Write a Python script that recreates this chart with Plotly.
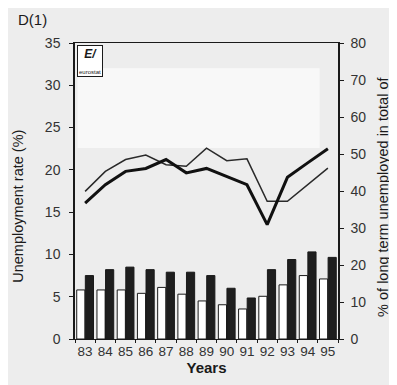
import plotly.graph_objects as go

# data
years = ["83", "84", "85", "86", "87", "88", "89", "90", "91", "92", "93", "94", "95"]
rate_white = [5.8, 5.8, 5.8, 5.4, 6.1, 5.3, 4.5, 4.05, 3.55, 5.05, 6.4, 7.5, 7.1]
rate_black = [7.5, 8.2, 8.5, 8.2, 7.9, 7.9, 7.5, 6.0, 4.85, 8.2, 9.4, 10.3, 9.65]
lt_thin = [39.9, 45.3, 48.5, 49.7, 47.1, 46.7, 51.6, 48.2, 48.7, 37.2, 37.2, 41.7, 46.2]
lt_thick = [36.7, 41.7, 45.3, 46.1, 48.5, 44.9, 46.1, 44.0, 41.7, 30.9, 43.7, 47.6, 51.4]
left_ticks = [0, 5, 10, 15, 20, 25, 30, 35]
right_ticks = [0, 10, 20, 30, 40, 50, 60, 70, 80]

INK = "#1a1a1a"
TXT = "#333333"
BG = "#ededed"
FONT = "Liberation Sans, Arial, sans-serif"

fig = go.Figure()
fig.add_trace(go.Bar(x=years, y=rate_white, marker=dict(color="white", line=dict(color=INK, width=1)),
                     showlegend=False))
fig.add_trace(go.Bar(x=years, y=rate_black, marker=dict(color="#1e1e1e", line=dict(color=INK, width=1)),
                     showlegend=False))
fig.add_trace(go.Scatter(x=years, y=lt_thin, yaxis="y2", mode="lines",
                         line=dict(color="#2a2a2a", width=1.5), showlegend=False))
fig.add_trace(go.Scatter(x=years, y=lt_thick, yaxis="y2", mode="lines",
                         line=dict(color="#111111", width=3), showlegend=False))

# lighter scan patch inside plot area
fig.add_shape(type="rect", xref="paper", yref="paper", x0=0.01, x1=0.93, y0=0.645, y1=0.915,
              fillcolor="#f8f8f8", line_width=0, layer="below")

# eurostat logo box
fig.add_annotation(xref="paper", yref="paper", x=0.006, y=0.993, xanchor="left", yanchor="top",
                   text="<b><i>E/</i></b><br><span style='font-size:6px'>eurostat</span>",
                   showarrow=False, bgcolor="white", bordercolor=INK, borderwidth=1, borderpad=1,
                   font=dict(size=12, color=INK, family=FONT))
fig.add_annotation(xref="paper", yref="paper", x=-0.225, y=1.08, xanchor="left", yanchor="middle",
                   text="D(1)", showarrow=False, font=dict(size=15, color=INK, family=FONT))
fig.add_annotation(xref="paper", yref="paper", x=-0.217, y=0.45, xanchor="center", yanchor="middle",
                   text="Unemployment rate (%)", textangle=-90, showarrow=False,
                   font=dict(size=14.5, color=INK, family=FONT))
fig.add_annotation(xref="paper", yref="paper", x=1.171, y=0.48, xanchor="center", yanchor="middle",
                   text="% of long term unemployed in total of", textangle=-90, showarrow=False,
                   font=dict(size=14.5, color=INK, family=FONT))

fig.update_layout(
    width=397, height=385,
    margin=dict(l=67, r=67, t=35, b=54),
    paper_bgcolor=BG, plot_bgcolor=BG,
    font=dict(family=FONT, size=14, color=TXT),
    barmode="group", bargap=0.15, bargroupgap=0.05,
    xaxis=dict(type="category", tickson="boundaries", ticks="outside", ticklen=3, tickcolor=INK,
               tickangle=0, showline=True, linecolor=INK, linewidth=1, mirror=True, showgrid=False,
               title=dict(text="<b>Years</b>", font=dict(size=15, color=INK), standoff=4),
               tickfont=dict(size=13.5, color=TXT)),
    yaxis=dict(range=[0, 35], tickvals=left_ticks, ticks="outside", ticklen=4, tickcolor=INK,
               ticklabelstandoff=6, showline=True, linecolor=INK, linewidth=1.5,
               showgrid=False, zeroline=False, tickfont=dict(size=14, color=TXT)),
    yaxis2=dict(range=[0, 80], tickvals=right_ticks, overlaying="y", side="right", ticks="outside",
                ticklen=4, tickcolor=INK, ticklabelstandoff=4, showline=True, linecolor=INK,
                linewidth=1.5, showgrid=False, zeroline=False, tickfont=dict(size=14, color=TXT)),
)

fig.write_html("out.html")
